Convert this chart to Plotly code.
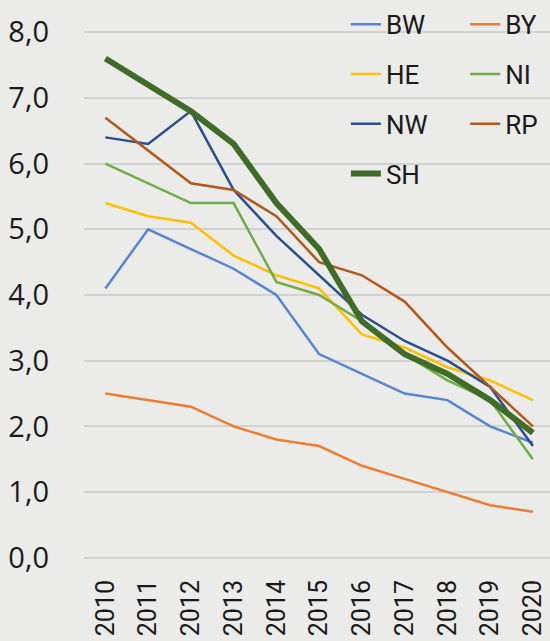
import plotly.graph_objects as go

years = [2010, 2011, 2012, 2013, 2014, 2015, 2016, 2017, 2018, 2019, 2020]
BW = [4.1, 5.0, 4.7, 4.4, 4.0, 3.1, 2.8, 2.5, 2.4, 2.0, 1.75]
BY = [2.5, 2.4, 2.3, 2.0, 1.8, 1.7, 1.4, 1.2, 1.0, 0.8, 0.7]
HE = [5.4, 5.2, 5.1, 4.6, 4.3, 4.1, 3.4, 3.2, 2.9, 2.7, 2.4]
NI = [6.0, 5.7, 5.4, 5.4, 4.2, 4.0, 3.6, 3.1, 2.7, 2.4, 1.5]
NW = [6.4, 6.3, 6.8, 5.6, 4.9, 4.3, 3.7, 3.3, 3.0, 2.6, 1.7]
RP = [6.7, 6.2, 5.7, 5.6, 5.2, 4.5, 4.3, 3.9, 3.2, 2.6, 2.0]
SH = [7.6, 7.2, 6.8, 6.3, 5.4, 4.7, 3.6, 3.1, 2.8, 2.4, 1.9]
y_ticks = [0, 1, 2, 3, 4, 5, 6, 7, 8]

series = [
    ("BW", BW, "#5585d4", 2.5, "legend"),
    ("BY", BY, "#ed7d31", 2.5, "legend2"),
    ("HE", HE, "#ffc000", 2.5, "legend"),
    ("NI", NI, "#70ad47", 2.5, "legend2"),
    ("NW", NW, "#2b4f8e", 2.5, "legend"),
    ("RP", RP, "#b4571a", 2.5, "legend2"),
    ("SH", SH, "#3f6c27", 6, "legend"),
]

fig = go.Figure()
for name, vals, color, w, lg in series:
    fig.add_trace(go.Scatter(
        x=years, y=vals, name=name, mode="lines",
        line=dict(color=color, width=w),
        legend=lg, legendgroup=name,
    ))

legend_font = dict(family="Roboto", size=26, color="#1a1a1a")
fig.update_layout(
    width=550, height=641,
    margin=dict(l=84, r=0, t=29, b=80, autoexpand=False),
    paper_bgcolor="#ebebea",
    plot_bgcolor="#ebebea",
    separators=",.",
    showlegend=True,
    legend=dict(x=0.562, y=1.053, xanchor="left", yanchor="top",
                font=legend_font, bgcolor="rgba(0,0,0,0)",
                tracegroupgap=13, traceorder="grouped"),
    legend2=dict(x=0.818, y=1.053, xanchor="left", yanchor="top",
                 font=legend_font, bgcolor="rgba(0,0,0,0)",
                 tracegroupgap=13, traceorder="grouped"),
    xaxis=dict(
        range=[2009.5, 2020.4], automargin=False,
        tickmode="array", tickvals=years, ticktext=[str(y) for y in years],
        tickangle=-90, showgrid=False, zeroline=False, showline=False,
        ticks="", ticklabelstandoff=13,
        tickfont=dict(family="Roboto", size=25, color="#1a1a1a"),
    ),
    yaxis=dict(
        range=[-0.05, 8.05], automargin=False,
        tickmode="array", tickvals=y_ticks, tickformat=".1f",
        showgrid=True, gridcolor="#d2d2d2", gridwidth=1.5,
        zeroline=False, showline=False, ticks="",
        ticklabelstandoff=34,
        tickfont=dict(family="Open Sans", size=29, color="#1a1a1a"),
    ),
)

fig.write_html(
    "out.html",
    config={"displayModeBar": False},
    post_script="document.body.style.margin='0px';document.body.style.overflow='hidden';",
)
